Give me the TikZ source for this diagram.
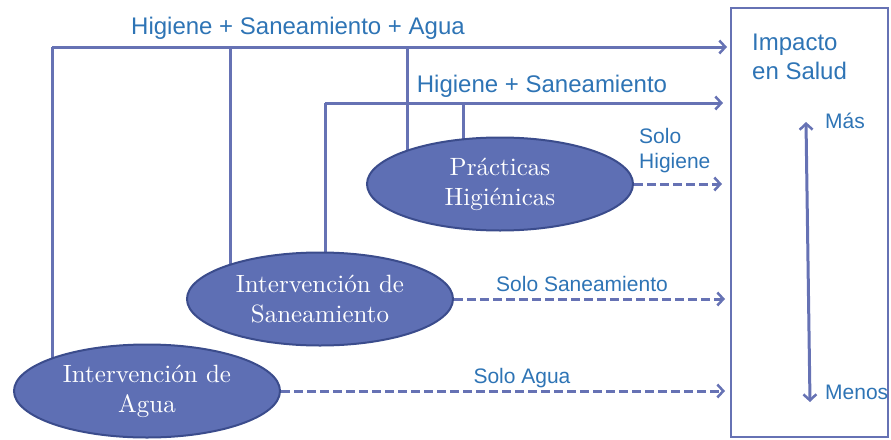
\documentclass[tikz,border=0pt]{standalone}
\usepackage{fontspec}
\setsansfont{Liberation Sans}
\newfontfamily\ellfont{lmroman10-regular.otf}
\usetikzlibrary{shapes.geometric,arrows.meta}
\definecolor{lineblue}{HTML}{6672B4}
\definecolor{ellfill}{HTML}{5E6FB4}
\definecolor{elldraw}{HTML}{3B4C8C}
\definecolor{txtblue}{HTML}{2E74B5}
\pgfdeclarelayer{bg}
\pgfsetlayers{bg,main}
\begin{document}
\begin{tikzpicture}[x=1pt,y=-1pt,
  ell/.style={ellipse, fill=ellfill, draw=elldraw, line width=2pt, minimum width=266pt, minimum height=93pt, inner sep=0pt, align=center, text=white, font=\ellfont\fontsize{25}{30}\selectfont},
  conn/.style={draw=lineblue, line width=3pt},
  arr/.style={conn, -{Straight Barb[length=6pt,width=13pt,line width=2.5pt]}},
  darr/.style={arr, dash pattern=on 9pt off 4pt},
  lbl/.style={text=txtblue, font=\fontsize{24}{29}\sffamily, inner sep=0pt},
  slbl/.style={text=txtblue, font=\fontsize{21}{25}\sffamily, inner sep=0pt},
  boxst/.style={draw=lineblue, line width=2.5pt, minimum width=157pt, minimum height=429pt, inner sep=0pt}
]
\useasboundingbox (0,0) rectangle (891,439);

% Impact box
\node[boxst] (imp) at (809.5,222.5) {};
\node[lbl, anchor=north west, align=left] (implbl) at (752,34) {Impacto\\en Salud};
\coordinate (up) at (806,122);
\coordinate (down) at (810,402);
\draw[conn, {Straight Barb[length=6pt,width=13pt,line width=2.5pt]}-{Straight Barb[length=6pt,width=13pt,line width=2.5pt]}] (up) -- (down);
\node[slbl, anchor=west] (mas) at (825,121) {Más};
\node[slbl, anchor=west] (menos) at (825,392) {Menos};

% Ellipses
\node[ell] (hig) at (500,184) {Prácticas\\Higiénicas};
\node[ell] (san) at (320,299) {Intervención de\\Saneamiento};
\node[ell] (agua) at (147,391) {Intervención de\\Agua};

% Connector lines
\coordinate (t1) at (52,47);
\coordinate (t2) at (230,47);
\coordinate (t3) at (407,47);
\coordinate (te) at (727,47);
\coordinate (s1) at (325,103);
\coordinate (s2) at (463,103);
\coordinate (se) at (723,103);
\begin{pgfonlayer}{bg}
\draw[conn] (t1) -- (t1 |- agua.center);
\draw[conn] (t2) -- (t2 |- san.center);
\draw[conn] (t3) -- (t3 |- hig.center);
\draw[conn] (s1) -- (s1 |- san.center);
\draw[conn] (s2) -- (s2 |- hig.center);
\end{pgfonlayer}
\draw[arr] (t1) -- (te);
\draw[arr] (s1) -- (se);
\node[lbl] (l1) at (298,28) {Higiene + Saneamiento + Agua};
\node[lbl] (l2) at (542,86) {Higiene + Saneamiento};

% Dashed arrows
\coordinate (he) at (722,184);
\coordinate (sae) at (725,299);
\coordinate (ae) at (725,391);
\draw[darr] (hig.east) -- (he);
\draw[darr] (san.east) -- (sae);
\draw[darr] (agua.east) -- (ae);
\node[slbl, anchor=west, align=left] (l3) at (639,151) {Solo\\Higiene};
\node[slbl] (l4) at (582,284) {Solo Saneamiento};
\node[slbl] (l5) at (522,378) {Solo Agua};
\end{tikzpicture}
\end{document}
